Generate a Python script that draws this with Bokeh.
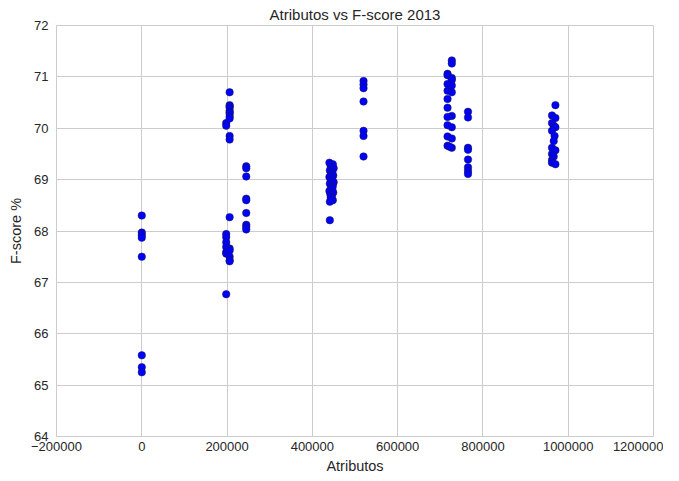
from bokeh.plotting import figure
from bokeh.models import FixedTicker, ColumnDataSource
from bokeh.embed import file_html
from bokeh.resources import INLINE

# --- data ---
c0_x = [0, 0, 0, 0, 0, 0, 0, 0]
c0_y = [68.30, 67.97, 67.92, 67.87, 67.50, 65.58, 65.35, 65.25]

c200a_x = [198000] * 9
c200a_y = [70.10, 70.05, 67.94, 67.88, 67.78, 67.69, 67.59, 67.56, 66.77]
c200b_x = [206000] * 17
c200b_y = [70.70, 70.45, 70.43, 70.40, 70.34, 70.31, 70.28, 70.23, 70.19,
           69.85, 69.78, 68.27, 67.66, 67.62, 67.50, 67.43, 67.41]

c245_x = [245000] * 9
c245_y = [69.26, 69.22, 69.06, 68.63, 68.60, 68.35, 68.12, 68.08, 68.03]

c445_x = [440000, 448000, 443000, 450000, 441000, 447000, 444000, 449000,
          440000, 446000, 443000, 450000, 441000, 448000, 444000, 447000,
          440000, 449000, 442000, 446000, 443000, 448000, 441000, 441000]
c445_y = [69.33, 69.30, 69.25, 69.22, 69.18, 69.15, 69.12, 69.08,
          69.05, 69.02, 68.98, 68.95, 68.92, 68.88, 68.85, 68.82,
          68.78, 68.75, 68.72, 68.68, 68.65, 68.60, 68.57, 68.21]

c520_x = [520000] * 7
c520_y = [70.92, 70.85, 70.78, 70.52, 69.95, 69.85, 69.45]

c720_x = [727000, 727000, 717000, 717000, 727000, 727000, 717000, 727000,
          717000, 727000, 717000, 717000, 727000, 717000, 717000, 727000,
          717000, 727000, 717000, 727000, 722000]
c720_y = [71.32, 71.26, 71.06, 71.03, 70.98, 70.94, 70.86, 70.83,
          70.73, 70.70, 70.57, 70.40, 70.24, 70.22, 70.06, 70.02,
          69.84, 69.80, 69.66, 69.62, 69.64]

c765_x = [765000] * 8
c765_y = [70.32, 70.21, 69.62, 69.58, 69.39, 69.24, 69.17, 69.11]

c965_x = [970000, 962000, 970000, 962000, 966000, 970000, 962000, 968000,
          966000, 962000, 970000, 962000, 966000, 962000, 962000, 970000]
c965_y = [70.45, 70.25, 70.20, 70.10, 70.05, 70.02, 69.95, 69.85,
          69.75, 69.62, 69.57, 69.50, 69.45, 69.38, 69.33, 69.30]

x_ticks = [-200000, 0, 200000, 400000, 600000, 800000, 1000000, 1200000]
y_ticks = [64, 65, 66, 67, 68, 69, 70, 71, 72]

xs = c0_x + c200a_x + c200b_x + c245_x + c445_x + c520_x + c720_x + c765_x + c965_x
ys = c0_y + c200a_y + c200b_y + c245_y + c445_y + c520_y + c720_y + c765_y + c965_y
src = ColumnDataSource(dict(x=xs, y=ys))

FONT = "Liberation Sans"
TXT = "#262626"

p = figure(width=663, height=476, output_backend="svg", toolbar_location=None,
           x_range=(-200000, 1200000), y_range=(64, 72),
           title="Atributos vs F-score 2013",
           min_border_left=56, min_border_right=10, min_border_top=24, min_border_bottom=4)

p.scatter("x", "y", source=src, size=7.5, fill_color="#0000ff",
          line_color="#1a1a40", line_width=0.5)

p.title.align = "center"
p.title.text_font = FONT
p.title.text_font_size = "15px"
p.title.text_font_style = "normal"
p.title.text_color = TXT
p.title.standoff = 6

p.xaxis.axis_label = "Atributos"
p.yaxis.axis_label = "F-score %"
for ax in (p.xaxis[0], p.yaxis[0]):
    ax.axis_label_text_font = FONT
    ax.axis_label_text_font_size = "14.5px"
    ax.axis_label_text_font_style = "normal"
    ax.axis_label_text_color = TXT
    ax.major_label_text_font = FONT
    ax.major_label_text_font_size = "13px"
    ax.major_label_text_color = TXT
    ax.axis_line_color = None
    ax.major_tick_line_color = None
    ax.minor_tick_line_color = None
    ax.major_tick_out = 0
    ax.major_tick_in = 0
    ax.minor_tick_out = 0
    ax.minor_tick_in = 0
p.xaxis.axis_label_standoff = 4
p.yaxis.axis_label_standoff = 7
p.xaxis.major_label_standoff = 5
p.yaxis.major_label_standoff = 8

p.xaxis.ticker = FixedTicker(ticks=x_ticks)
p.yaxis.ticker = FixedTicker(ticks=y_ticks)
p.xaxis.major_label_overrides = {t: (str(t).replace("-", "\u2212")) for t in x_ticks}
p.yaxis.major_label_overrides = {t: str(t) for t in y_ticks}

p.xgrid.grid_line_color = "#cccccc"
p.ygrid.grid_line_color = "#cccccc"
p.xgrid.grid_line_width = 1
p.ygrid.grid_line_width = 1
p.outline_line_color = "#cccccc"
p.outline_line_width = 1
p.background_fill_color = "white"
p.border_fill_color = "white"

open("out.html", "w").write(file_html(p, INLINE))
